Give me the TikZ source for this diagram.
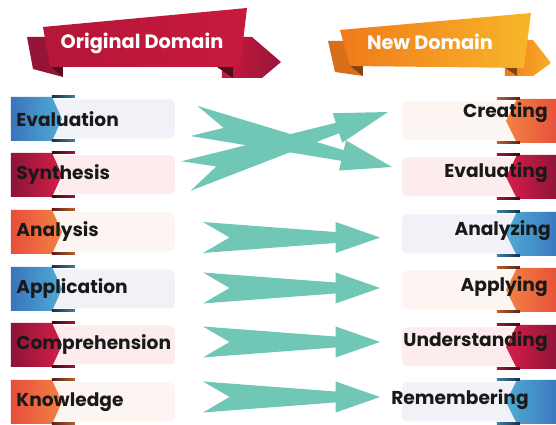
\documentclass[tikz,border=0pt]{standalone}
\usepackage{fontspec}
\setmainfont{Poppins}
\usepackage{tikz}
\usetikzlibrary{calc,positioning}

\definecolor{tealarrow}{RGB}{112,199,182}
\definecolor{bluedark}{RGB}{58,116,190}
\definecolor{bluelight}{RGB}{80,172,212}
\definecolor{crimdark}{RGB}{140,20,55}
\definecolor{crimlight}{RGB}{214,30,72}
\definecolor{orgdark}{RGB}{230,78,58}
\definecolor{orglight}{RGB}{243,130,66}
\definecolor{paleblue}{RGB}{240,242,248}
\definecolor{palepink}{RGB}{252,236,238}
\definecolor{palepeach}{RGB}{253,245,241}
\definecolor{ribbonred}{RGB}{200,25,62}
\definecolor{ribbonorange}{RGB}{241,122,27}
\definecolor{ribbonyellow}{RGB}{247,182,42}

\tikzset{
  boxtext/.style={font=\fontsize{10.6}{13}\selectfont\bfseries, text=black!90, inner sep=0pt},
  headtext/.style={font=\fontsize{11}{13}\selectfont\bfseries, text=white, inner sep=0pt},
}

% fat arrow with a notched tail, from #1 (tail) to #2 (tip)
\newcommand\fletch[2]{%
  \fill[tealarrow] ($(#1)!8.8pt!90:(#2)$)
    -- ($($(#1)!0.75!(#2)$)!3.1pt!90:(#2)$)
    -- ($($(#1)!0.75!(#2)$)!8.8pt!90:(#2)$)
    -- (#2)
    -- ($($(#1)!0.75!(#2)$)!8.8pt!-90:(#2)$)
    -- ($($(#1)!0.75!(#2)$)!3.1pt!-90:(#2)$)
    -- ($(#1)!8.8pt!-90:(#2)$)
    -- ($(#1)!0.15!(#2)$) -- cycle;}

\begin{document}
\begin{tikzpicture}[x=0.02cm, y=-0.02cm]
\useasboundingbox[fill=white] (0,0) rectangle (556,425);

% ribbon: Original Domain
\fill[crimdark!85!ribbonred] (27,37) -- (58,37) -- (63,77) -- (33,69) -- cycle;
\fill[crimdark!60!black] (50,66) -- (63,66) -- (63,77) -- cycle;
\shade[left color=ribbonred, right color=crimdark!80!ribbonred] (222,37) -- (252,37) -- (281,62) -- (262,78) -- (222,78) -- cycle;
\fill[crimdark!60!black] (217,67) -- (233,67) -- (233,78) -- cycle;
\shade[left color=ribbonred!90!black, right color=ribbonred] (43,27) -- (247,8) -- (240,67) -- (50,67) -- cycle;
\node[headtext] (origin) at (142,43) {Original Domain};

% ribbon: New Domain
\fill[ribbonorange!90!black] (328,41) -- (352,41) -- (363,76) -- (335,72) -- cycle;
\fill[ribbonorange!55!black] (350,66) -- (363,66) -- (363,76) -- cycle;
\shade[left color=ribbonorange, right color=ribbonyellow!90!ribbonorange] (505,40) -- (533,40) -- (551,63) -- (533,76) -- (505,76) -- cycle;
\fill[ribbonorange!55!black] (504,67) -- (517,67) -- (517,76) -- cycle;
\shade[left color=ribbonorange, right color=ribbonyellow] (340,30) -- (531,13) -- (524,68) -- (350,66) -- cycle;
\node[headtext] (newdom) at (430,42) {New Domain};

% left column
\foreach \y/\ca/\cb/\pa/\txt/\nm in {119/bluedark/bluelight/paleblue/Evaluation/evaluation,
  175/crimdark/crimlight/palepink/Synthesis/synthesis,
  232/orgdark/orglight/palepeach/Analysis/analysis,
  289/bluedark/bluelight/paleblue/Application/application,
  345/crimdark/crimlight/palepink/Comprehension/comprehension,
  402/orgdark/orglight/palepeach/Knowledge/knowledge}
{
\fill[\pa, rounded corners=3pt] (11,\y-19.5) rectangle (175,\y+19.5);
\shade[left color=\ca, right color=\cb] (11,\y-22) -- (52,\y-22) -- (62,\y) -- (52,\y+22) -- (11,\y+22) -- cycle;
\shade[left color=\ca!40!black, right color=\cb!75!black] (52,\y-23) rectangle (75,\y-21);
\shade[left color=\ca!40!black, right color=\cb!75!black] (52,\y+21) rectangle (75,\y+23);
\node[boxtext, anchor=west] (\nm) at (16,\y) {\txt};
}

% right column
\foreach \y/\ty/\tx/\ca/\cb/\pa/\txt/\nm in {121/113/548/orgdark/orglight/palepeach/Creating/creating,
  177/173/548/crimdark/crimlight/palepink/Evaluating/evaluating,
  234/231/551/bluedark/bluelight/paleblue/Analyzing/analyzing,
  290/287/548/orgdark/orglight/palepeach/Applying/applying,
  347/342/548/crimdark/crimlight/palepink/Understanding/understanding,
  402/400/529/bluedark/bluelight/paleblue/Remembering/remembering}
{
\fill[\pa, rounded corners=3pt] (402,\y-19.5) rectangle (580,\y+19.5);
\shade[left color=\cb, right color=\ca] (560,\y-22) -- (517,\y-22) -- (506,\y) -- (517,\y+22) -- (560,\y+22) -- cycle;
\shade[left color=\cb!75!black, right color=\ca!40!black] (497,\y-23) rectangle (520,\y-21);
\shade[left color=\cb!75!black, right color=\ca!40!black] (497,\y+21) rectangle (520,\y+23);
\node[boxtext, anchor=east] (\nm) at (\tx,\ty) {\txt};
}

% arrows
\coordinate (a1) at (194,121);  \coordinate (b1) at (392,167);
\coordinate (a2) at (186,176);  \coordinate (b2) at (388,112);
\fletch{a1}{b1}
\fletch{a2}{b2}
\foreach \c [count=\i from 3] in {237.5,288,342,397}
{
\coordinate (a\i) at (203,\c);
\coordinate (b\i) at (380,\c);
\fletch{a\i}{b\i}
}
\end{tikzpicture}
\end{document}
